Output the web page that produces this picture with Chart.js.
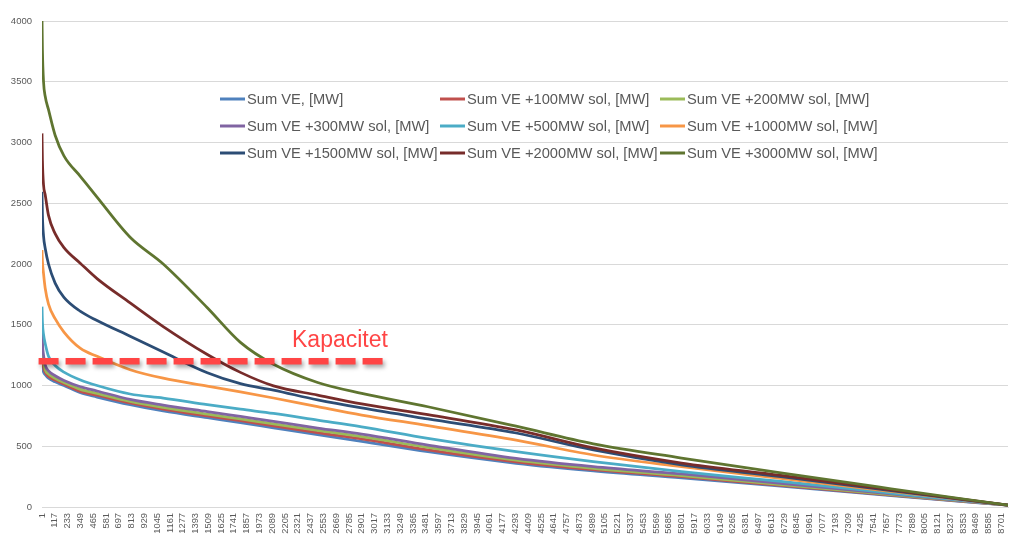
<!DOCTYPE html>
<html><head><meta charset="utf-8">
<script src="https://cdn.jsdelivr.net/npm/chart.js@4.4.1/dist/chart.umd.min.js"></script>
<style>
html,body{margin:0;padding:0;background:#fff;}
#wrap{width:1010px;height:534px;overflow:hidden;position:relative;background:#fff;}
canvas{display:block;}
</style>
</head><body>
<div id="wrap"><canvas id="c" width="1010" height="534"></canvas></div>
<script>
// ---- DATA ----
const hours = [1, 5, 15, 30, 60, 120, 200, 350, 500, 800, 1100, 1500, 1800, 2100, 2500, 2900, 3500, 4300, 5000, 5800, 6700, 7700, 8760];

const seriesNames = [
  "Sum VE, [MW]", "Sum VE +100MW sol, [MW]", "Sum VE +200MW sol, [MW]",
  "Sum VE +300MW sol, [MW]", "Sum VE +500MW sol, [MW]", "Sum VE +1000MW sol, [MW]",
  "Sum VE +1500MW sol, [MW]", "Sum VE +2000MW sol, [MW]", "Sum VE +3000MW sol, [MW]"
];

const sumVE     = [1230, 1160, 1110, 1090, 1060, 1030, 1000, 940, 905, 842, 790, 735, 695, 652, 595, 540, 455, 360, 297, 239, 172, 94, 15];
const sol100    = [1340, 1230, 1150, 1110, 1075, 1045, 1012, 952, 920, 856, 805, 750, 710, 668, 612, 560, 470, 372, 307, 249, 178, 98, 15];
const sol200    = [1400, 1280, 1190, 1130, 1095, 1060, 1025, 968, 935, 869, 820, 765, 725, 685, 630, 580, 490, 385, 318, 258, 185, 102, 15];
const sol300    = [1473, 1350, 1250, 1170, 1120, 1080, 1042, 990, 955, 886, 839, 785, 745, 705, 650, 600, 510, 400, 332, 272, 195, 107, 15];
const sol500    = [1649, 1520, 1420, 1345, 1240, 1165, 1110, 1045, 1000, 930, 897, 843, 805, 770, 715, 660, 565, 455, 373, 291, 210, 115, 15];
const sol1000   = [2115, 2020, 1920, 1800, 1670, 1550, 1440, 1305, 1240, 1130, 1060, 995, 948, 897, 826, 757, 670, 551, 428, 332, 235, 128, 15];
const sol1500   = [2595, 2400, 2230, 2130, 2000, 1843, 1725, 1610, 1535, 1405, 1275, 1105, 1015, 962, 882, 815, 725, 609, 469, 346, 250, 135, 15];
const sol2000   = [3075, 2850, 2650, 2570, 2400, 2250, 2135, 2005, 1880, 1680, 1485, 1255, 1108, 997, 921, 848, 760, 634, 486, 362, 260, 140, 15];
const sol3000   = [4030, 3760, 3500, 3380, 3270, 3060, 2890, 2720, 2550, 2220, 2000, 1640, 1355, 1175, 1025, 935, 825, 665, 520, 403, 280, 150, 15];

const seriesValues = [sumVE, sol100, sol200, sol300, sol500, sol1000, sol1500, sol2000, sol3000];
const seriesColors = ["#4F81BD", "#C0504D", "#9BBB59", "#8064A2", "#4BACC6", "#F79646", "#2C4D75", "#772C2A", "#5F7530"];

const xTickLabels = [1,117,233,349,465,581,697,813,929,1045,1161,1277,1393,1509,1625,1741,1857,1973,2089,2205,2321,2437,2553,2669,2785,2901,3017,3133,3249,3365,3481,3597,3713,3829,3945,4061,4177,4293,4409,4525,4641,4757,4873,4989,5105,5221,5337,5453,5569,5685,5801,5917,6033,6149,6265,6381,6497,6613,6729,6845,6961,7077,7193,7309,7425,7541,7657,7773,7889,8005,8121,8237,8353,8469,8585,8701];
const yTickLabels = [0, 500, 1000, 1500, 2000, 2500, 3000, 3500, 4000];

const kapacitetLabel = "Kapacitet";
const kapacitetValue = 1200;
const kapacitetHours = [-30, 3093];

// ---- CHART ----
const RED = "#FF4545";
const datasets = seriesValues.map((vals, i) => ({
  label: seriesNames[i],
  data: hours.map((h, j) => ({x: h, y: vals[j]})),
  borderColor: seriesColors[i],
  backgroundColor: seriesColors[i],
  borderWidth: 2.75,
  pointRadius: 0,
  cubicInterpolationMode: 'monotone',
  fill: false,
  order: 20 - i
}));
datasets.push({
  label: kapacitetLabel,
  data: kapacitetHours.map(h => ({x: h, y: kapacitetValue})),
  borderColor: RED,
  borderWidth: 6.5,
  borderDash: [20, 7],
  borderCapStyle: 'butt',
  pointRadius: 0,
  clip: false,
  order: 0,
  isKapacitet: true
});

const shadowPlugin = {
  id: 'shadow',
  beforeDatasetDraw(chart, args) {
    if (chart.data.datasets[args.index].isKapacitet) {
      const ctx = chart.ctx;
      ctx.save();
      ctx.shadowColor = 'rgba(0,0,0,0.35)';
      ctx.shadowBlur = 4;
      ctx.shadowOffsetX = 2;
      ctx.shadowOffsetY = 3;
    }
  },
  afterDatasetDraw(chart, args) {
    if (chart.data.datasets[args.index].isKapacitet) chart.ctx.restore();
  }
};

const annotationPlugin = {
  id: 'texts',
  afterDraw(chart) {
    const ctx = chart.ctx;
    ctx.save();
    // Kapacitet label
    ctx.fillStyle = RED;
    ctx.font = "23px 'Liberation Sans', Arial, sans-serif";
    ctx.textBaseline = 'alphabetic';
    ctx.textAlign = 'left';
    ctx.fillText(kapacitetLabel, 292, 347);
    // Legend (3 columns x 3 rows, inside plot)
    const colX = [220, 440, 660];
    const rowY = [99, 126, 153];
    ctx.font = "14.7px 'Liberation Sans', Arial, sans-serif";
    ctx.textBaseline = 'middle';
    seriesNames.forEach((name, i) => {
      const cx = colX[i % 3], cy = rowY[Math.floor(i / 3)];
      ctx.strokeStyle = seriesColors[i];
      ctx.lineWidth = 3;
      ctx.beginPath();
      ctx.moveTo(cx, cy);
      ctx.lineTo(cx + 25, cy);
      ctx.stroke();
      ctx.fillStyle = '#595959';
      ctx.fillText(name, cx + 27, cy + 1);
    });
    ctx.restore();
  }
};

new Chart(document.getElementById('c'), {
  type: 'line',
  data: { datasets },
  plugins: [shadowPlugin, annotationPlugin],
  options: {
    responsive: false,
    animation: false,
    devicePixelRatio: 1,
    layout: { padding: { top: 21, right: 2, left: 0, bottom: 0 } },
    plugins: { legend: { display: false }, tooltip: { enabled: false } },
    scales: {
      x: {
        type: 'linear',
        min: 1,
        max: 8760,
        grid: { display: false, drawTicks: false },
        border: { display: true, color: '#D9D9D9', width: 1 },
        afterBuildTicks(scale) { scale.ticks = xTickLabels.map(v => ({ value: v })); },
        afterFit(scale) { scale.height = 27; scale.paddingLeft = 0; scale.paddingRight = 0; },
        ticks: {
          autoSkip: false,
          maxRotation: 90,
          minRotation: 90,
          padding: 6,
          color: '#595959',
          font: { family: "'Liberation Sans', Arial, sans-serif", size: 9.3 },
          callback: v => String(v)
        }
      },
      y: {
        min: 0,
        max: 4000,
        grid: { color: '#D9D9D9', lineWidth: 1, drawTicks: false },
        border: { display: false },
        afterBuildTicks(scale) { scale.ticks = yTickLabels.map(v => ({ value: v })); },
        afterFit(scale) { scale.width = 42; scale.paddingTop = 0; scale.paddingBottom = 0; },
        ticks: {
          padding: 10,
          color: '#595959',
          font: { family: "'Liberation Sans', Arial, sans-serif", size: 9.5 },
          callback: v => String(v)
        }
      }
    }
  }
});
</script>
</body></html>
